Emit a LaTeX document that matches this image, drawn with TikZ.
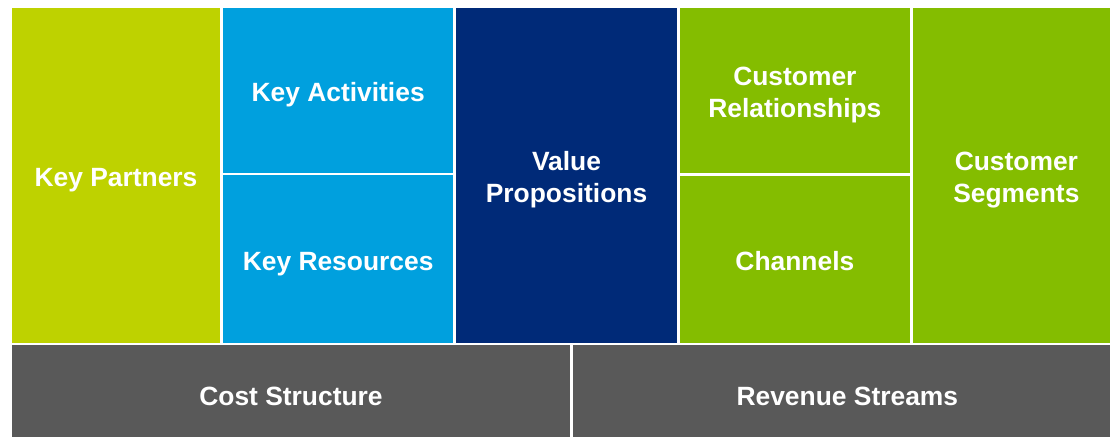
\documentclass[tikz,border=0pt]{standalone}
\usepackage{fontspec}
\setmainfont{Liberation Sans}
\definecolor{kplime}{RGB}{190,210,0}
\definecolor{kablue}{RGB}{0,160,222}
\definecolor{vpnavy}{RGB}{0,42,120}
\definecolor{crgreen}{RGB}{132,189,0}
\definecolor{csgray}{RGB}{89,89,89}
% #1 name, #2-#5 box corners, #6 colour, #7 text, #8 text x offset, #9 text y offset
\newcommand{\bmcblock}[9]{%
  \fill[#6] (#2,#3) rectangle (#4,#5);
  \node[bmctext] (#1) at ({(#2+#4)/2+#8},{(#3+#5)/2+#9}) {#7};}
\tikzset{
  bmctext/.style={inner sep=0pt, outer sep=0pt,
    text=white, font=\fontsize{26.4}{32}\selectfont\bfseries, align=center}
}
\begin{document}
\begin{tikzpicture}[x=1pt,y=-1pt]
\useasboundingbox (0,0) rectangle (1110,437);
\bmcblock{kp}{12}{7.5}{220}{342.7}{kplime}{Key Partners}{0}{5}
\bmcblock{ka}{223}{7.5}{453.3}{172.7}{kablue}{Key Activities}{0}{5}
\bmcblock{kr}{223}{175.3}{453.3}{342.7}{kablue}{Key Resources}{0}{5}
\bmcblock{vp}{456}{7.5}{677}{342.5}{vpnavy}{Value\\Propositions}{0}{5}
\bmcblock{cr}{679.7}{7.5}{910}{173}{crgreen}{Customer\\Relationships}{0}{5}
\bmcblock{ch}{679.7}{175.7}{910}{342.7}{crgreen}{Channels}{0}{2}
\bmcblock{cs}{912.7}{7.5}{1110}{342.7}{crgreen}{Customer\\Segments}{5}{5}
\bmcblock{cost}{12}{345.3}{570}{437}{csgray}{Cost Structure}{0}{5}
\bmcblock{rev}{572.7}{345.3}{1110}{437}{csgray}{Revenue Streams}{6}{5}
\end{tikzpicture}
\end{document}
